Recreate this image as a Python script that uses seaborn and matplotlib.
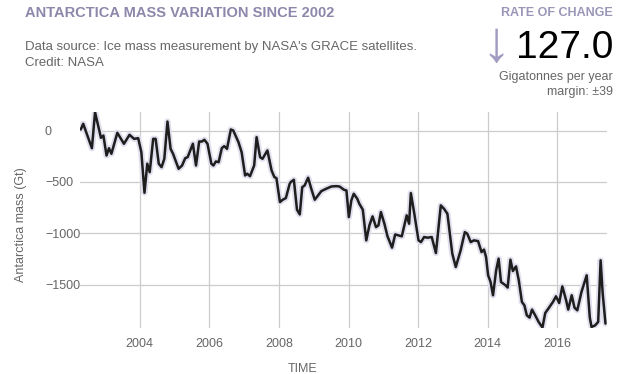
import matplotlib
matplotlib.use("Agg")
import matplotlib.pyplot as plt
import seaborn as sns
import pandas as pd

# Values
years = [
    2002.31, 2002.38, 2002.63, 2002.72, 2002.89, 2002.96, 2003.05, 2003.12, 2003.19, 2003.36,
    2003.55, 2003.71, 2003.84, 2003.96, 2004.05, 2004.14, 2004.22, 2004.29, 2004.39, 2004.46,
    2004.55, 2004.63, 2004.71, 2004.80, 2004.89, 2004.96, 2005.12, 2005.22, 2005.31, 2005.38,
    2005.53, 2005.62, 2005.71, 2005.79, 2005.86, 2005.95, 2006.06, 2006.12, 2006.19, 2006.27,
    2006.36, 2006.43, 2006.51, 2006.62, 2006.69, 2006.84, 2006.93, 2007.03, 2007.09, 2007.17,
    2007.29, 2007.36, 2007.46, 2007.53, 2007.67, 2007.79, 2007.87, 2007.93, 2008.03, 2008.11,
    2008.20, 2008.31, 2008.34, 2008.43, 2008.52, 2008.60, 2008.67, 2008.74, 2008.84, 2008.93,
    2009.03, 2009.22, 2009.36, 2009.51, 2009.65, 2009.74, 2009.87, 2009.94, 2010.01, 2010.08,
    2010.15, 2010.25, 2010.31, 2010.41, 2010.51, 2010.60, 2010.69, 2010.79, 2010.86, 2010.93,
    2011.03, 2011.12, 2011.25, 2011.34, 2011.44, 2011.53, 2011.67, 2011.74, 2011.79, 2011.89,
    2012.01, 2012.08, 2012.17, 2012.27, 2012.39, 2012.51, 2012.65, 2012.74, 2012.84, 2012.98,
    2013.08, 2013.22, 2013.34, 2013.41, 2013.51, 2013.60, 2013.72, 2013.82, 2013.89, 2013.95,
    2014.01, 2014.08, 2014.15, 2014.24, 2014.31, 2014.38, 2014.51, 2014.57, 2014.65, 2014.72,
    2014.81, 2014.89, 2014.98, 2015.05, 2015.12, 2015.20, 2015.27, 2015.36, 2015.46, 2015.57,
    2015.65, 2015.74, 2015.87, 2015.96, 2016.05, 2016.14, 2016.25, 2016.31, 2016.41, 2016.49,
    2016.57, 2016.69, 2016.84, 2016.93, 2016.98, 2017.08, 2017.17, 2017.24, 2017.30, 2017.38,
]
mass = [
    10, 65, -172, 178, -71, -49, -243, -172, -226, -22,
    -129, -42, -81, -75, -211, -605, -323, -405, -81, -81,
    -323, -356, -275, 87, -178, -226, -372, -340, -269, -259,
    -129, -340, -107, -107, -90, -129, -323, -340, -301, -308,
    -172, -152, -178, 10, 0, -114, -211, -437, -420, -444,
    -340, -65, -259, -275, -194, -388, -453, -463, -696, -673,
    -657, -518, -502, -479, -770, -816, -551, -534, -459, -566,
    -673, -589, -566, -544, -541, -544, -576, -583, -842, -680,
    -615, -663, -712, -770, -1068, -922, -835, -939, -922, -793,
    -906, -1029, -1139, -1010, -1020, -1029, -825, -906, -609, -809,
    -1068, -1085, -1036, -1042, -1036, -1191, -728, -760, -809, -1197,
    -1327, -1165, -988, -1003, -1085, -1068, -1075, -1182, -1158, -1230,
    -1408, -1473, -1602, -1359, -1246, -1473, -1505, -1527, -1256, -1366,
    -1321, -1457, -1667, -1699, -1796, -1819, -1741, -1796, -1861, -1915,
    -1774, -1731, -1667, -1612, -1677, -1515, -1651, -1741, -1602, -1722,
    -1748, -1570, -1408, -1819, -1910, -1895, -1861, -1262, -1586, -1877,
]
year_ticks = [2004, 2006, 2008, 2010, 2012, 2014, 2016]
mass_ticks = [0, -500, -1000, -1500]

df = pd.DataFrame({"year": years, "mass": mass})

sns.set_style("whitegrid")
plt.rcParams["font.family"] = ["Liberation Sans", "DejaVu Sans"]

fig = plt.figure(figsize=(6.18, 3.74), dpi=100)
ax = fig.add_axes([0.129, 0.123, 0.853, 0.577])

# soft uncertainty halo, then the line itself
sns.lineplot(data=df, x="year", y="mass", ax=ax, color="#e0dfee", linewidth=4.5)
sns.lineplot(data=df, x="year", y="mass", ax=ax, color="#1e1e1e", linewidth=1.8)

ax.set_xlim(2002.28, 2017.42)
ax.set_ylim(-1920, 178)
ax.set_xticks(year_ticks)
ax.set_yticks(mass_ticks)
ax.grid(True, color="#cccccc", linewidth=0.9)
for s in ax.spines.values():
    s.set_visible(False)
ax.tick_params(axis="both", length=0, labelcolor="#666666", labelsize=9)
ax.tick_params(axis="x", pad=7)
ax.tick_params(axis="y", pad=25)
for lab in ax.get_yticklabels():
    lab.set_horizontalalignment("left")

ax.set_xlabel("TIME", color="#666666", fontsize=9)
ax.xaxis.set_label_coords(0.423, -0.16)
ax.set_ylabel("Antarctica mass (Gt)", color="#666666", fontsize=9)
ax.yaxis.set_label_coords(-0.1, 0.48)

# header texts
fig.text(25 / 618, 1 - 13 / 374, "ANTARCTICA MASS VARIATION SINCE 2002",
         fontsize=10.5, fontweight="bold", color="#8c87ab", va="center")
fig.text(25 / 618, 1 - 47 / 374, "Data source: Ice mass measurement by NASA's GRACE satellites.",
         fontsize=9.5, color="#666666", va="center")
fig.text(25 / 618, 1 - 63 / 374, "Credit: NASA", fontsize=9.5, color="#666666", va="center")

fig.text(613 / 618, 1 - 13 / 374, "RATE OF CHANGE", fontsize=9, fontweight="bold",
         color="#9a96b8", ha="right", va="center")
fig.text(496 / 618, 1 - 46 / 374, "\u2193", fontsize=42, color="#a19dc2",
         ha="center", va="center", family=["Liberation Sans", "DejaVu Sans"])
fig.text(613 / 618, 1 - 48 / 374, "127.0", fontsize=28, color="black",
         ha="right", va="center")
fig.text(613 / 618, 1 - 77 / 374, "Gigatonnes per year", fontsize=9, color="#666666",
         ha="right", va="center")
fig.text(613 / 618, 1 - 92 / 374, "margin: \u00b139", fontsize=9, color="#666666",
         ha="right", va="center")

fig.savefig("out.png", dpi=100)
